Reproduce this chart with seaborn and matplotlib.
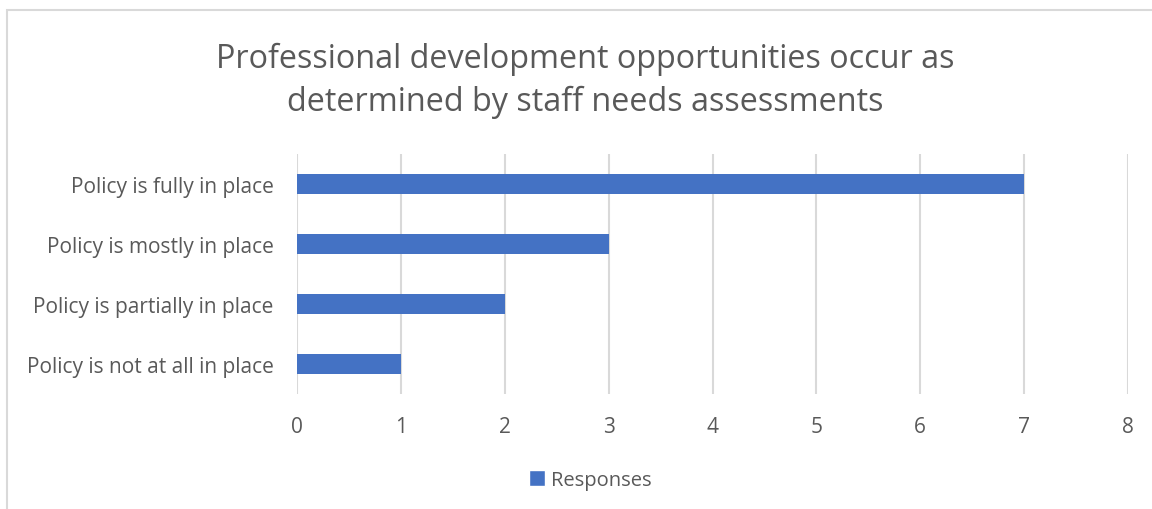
import matplotlib
matplotlib.use("Agg")
import matplotlib.pyplot as plt
from matplotlib.patches import Rectangle, Patch
import seaborn as sns
import pandas as pd

categories = [
    "Policy is fully in place",
    "Policy is mostly in place",
    "Policy is partially in place",
    "Policy is not at all in place",
]
responses = [7, 3, 2, 1]
x_ticks = [0, 1, 2, 3, 4, 5, 6, 7, 8]
title = "Professional development opportunities occur as\ndetermined by staff needs assessments"
series_name = "Responses"

sns.set_theme(style="white")
plt.rcParams["font.family"] = ["Open Sans", "DejaVu Sans"]

text_color = "#595959"
bar_color = "#4472C4"
grid_color = "#D9D9D9"

df = pd.DataFrame({"category": categories, "value": responses})

fig = plt.figure(figsize=(11.52, 5.10), dpi=100)
ax = fig.add_axes([297 / 1152, 1 - 395 / 510, (1128 - 297) / 1152, 240 / 510])

sns.barplot(data=df, x="value", y="category", orient="h", color=bar_color,
            width=0.33, saturation=1, linewidth=0, ax=ax, zorder=3)

ax.set_xlim(0, 8)
ax.set_xticks(x_ticks)
ax.set_xticklabels([str(t) for t in x_ticks])
ax.set_xlabel("")
ax.set_ylabel("")
ax.grid(axis="x", color=grid_color, linewidth=1.5, zorder=0)
ax.grid(axis="y", visible=False)
for s in ax.spines.values():
    s.set_visible(False)
ax.tick_params(axis="both", length=0, labelcolor=text_color, labelsize=15)
ax.tick_params(axis="y", pad=17)
ax.tick_params(axis="x", pad=16)

fig.text(585 / 1152, 1 - 81 / 510, title, ha="center", va="center",
         fontsize=23.3, color=text_color, linespacing=1.4)

fig.legend(handles=[Patch(facecolor=bar_color, label=series_name)],
           loc="center", bbox_to_anchor=(590 / 1152, 1 - 481 / 510),
           frameon=False, fontsize=14.5, labelcolor=text_color,
           handlelength=0.8, handleheight=0.8, handletextpad=0.3)

fig.patches.append(Rectangle((6.5 / 1152, -0.1), 1.2, 1 - 10.5 / 510 + 0.1,
                             transform=fig.transFigure, fill=False,
                             edgecolor="#D9D9D9", linewidth=1.5, clip_on=False))

fig.savefig("out.png", dpi=100)
